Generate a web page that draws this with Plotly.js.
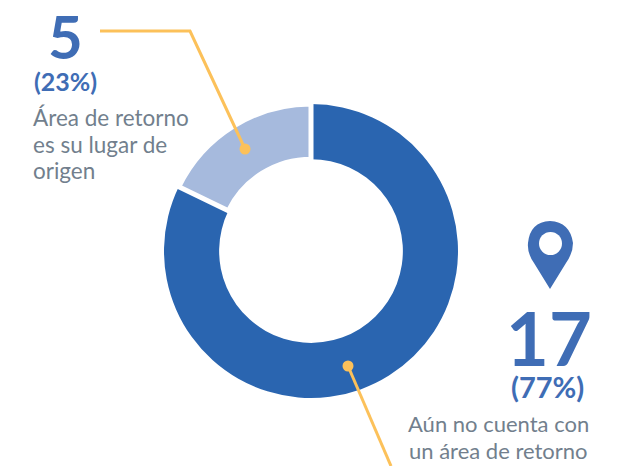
<!DOCTYPE html>
<html><head><meta charset="utf-8">
<script src="https://cdn.plot.ly/plotly-3.0.1.min.js"></script>
<style>html,body{margin:0;padding:0;background:#fff}#c{width:631px;height:466px}</style></head>
<body><div id="c"></div>
<script>
const categories = ["Aún no cuenta con un área de retorno", "Área de retorno es su lugar de origen"];
const drawnShare = [82.2, 17.8];
const W = 631, H = 466;
const px = x => x / W, py = y => 1 - y / H;
const FONT = "Lato, 'Open Sans', sans-serif";
const BLUE = "#3f6db5", GREY = "#727f8d", GOLD = "#fcc15a";
const cx = 311, cy = 251, R = 147;
const domain = {x: [px(cx - R), px(cx + R)], y: [py(cy + R), py(cy - R)]};
const base = {type: "pie", labels: categories, values: drawnShare, hole: 0.625, sort: false,
  direction: "counterclockwise", rotation: 0, textinfo: "none", hoverinfo: "label", domain: domain, showlegend: false};
const traces = [
  Object.assign({}, base, {marker: {colors: ["#2a65b0", "rgba(0,0,0,0)"], line: {width: 0}}}),
  Object.assign({}, base, {marker: {colors: ["rgba(0,0,0,0)", "#a6badd"], line: {color: ["rgba(0,0,0,0)", "#ffffff"], width: 5}}})
];
function t(x, y, text, size, color, anchor, bold) {
  return {xref: "paper", yref: "paper", x: px(x), y: py(y), text: bold ? "<b>" + text + "</b>" : text,
    showarrow: false, xanchor: anchor, yanchor: "middle", align: anchor,
    font: {family: FONT, size: size, color: color}};
}
const annotations = [
  t(65, 36, "5", 60, BLUE, "center", true),
  t(65, 81, "(23%)", 25, BLUE, "center", true),
  t(31, 117, "Área de retorno", 22.5, GREY, "left"),
  t(31, 144, "es su lugar de", 22.5, GREY, "left"),
  t(31, 170, "origen", 22.5, GREY, "left"),
  t(549, 337, "17", 74, BLUE, "center", true),
  t(547, 386, "(77%)", 29, BLUE, "center", true),
  t(499, 423, "Aún no cuenta con", 22, GREY, "center"),
  t(499, 450, "un área de retorno", 22, GREY, "center")
];
const line = (pts) => ({type: "path", xref: "paper", yref: "paper",
  path: "M" + pts.map(p => px(p[0]) + "," + py(p[1])).join("L"),
  line: {color: GOLD, width: 3}});
const dot = (x, y, r) => ({type: "circle", xref: "paper", yref: "paper",
  x0: px(x - r), x1: px(x + r), y0: py(y + r), y1: py(y - r),
  fillcolor: GOLD, line: {width: 0}});
const pin = {type: "path", xref: "paper", yref: "paper", fillcolor: BLUE, line: {width: 0},
  path: "M" + [[550,289]].map(p => px(p[0]) + "," + py(p[1])) +
    "L" + px(534) + "," + py(263) +
    "Q" + px(527) + "," + py(253) + " " + px(528) + "," + py(243) +
    "Q" + px(530) + "," + py(222) + " " + px(550) + "," + py(221) +
    "Q" + px(570) + "," + py(222) + " " + px(573) + "," + py(243) +
    "Q" + px(573) + "," + py(253) + " " + px(566) + "," + py(263) + "Z"};
const pinHole = {type: "circle", xref: "paper", yref: "paper",
  x0: px(539), x1: px(562), y0: py(255), y1: py(232), fillcolor: "#ffffff", line: {width: 0}};
const shapes = [
  line([[100, 31], [190, 31], [245, 149]]), dot(245, 149, 5.5),
  line([[348, 366], [391, 466]]), dot(348, 366, 5.5),
  pin, pinHole
];
Plotly.newPlot("c", traces, {width: W, height: H, margin: {l: 0, r: 0, t: 0, b: 0},
  paper_bgcolor: "#fff", plot_bgcolor: "#fff", showlegend: false, annotations: annotations, shapes: shapes},
  {displayModeBar: false});
</script></body></html>
